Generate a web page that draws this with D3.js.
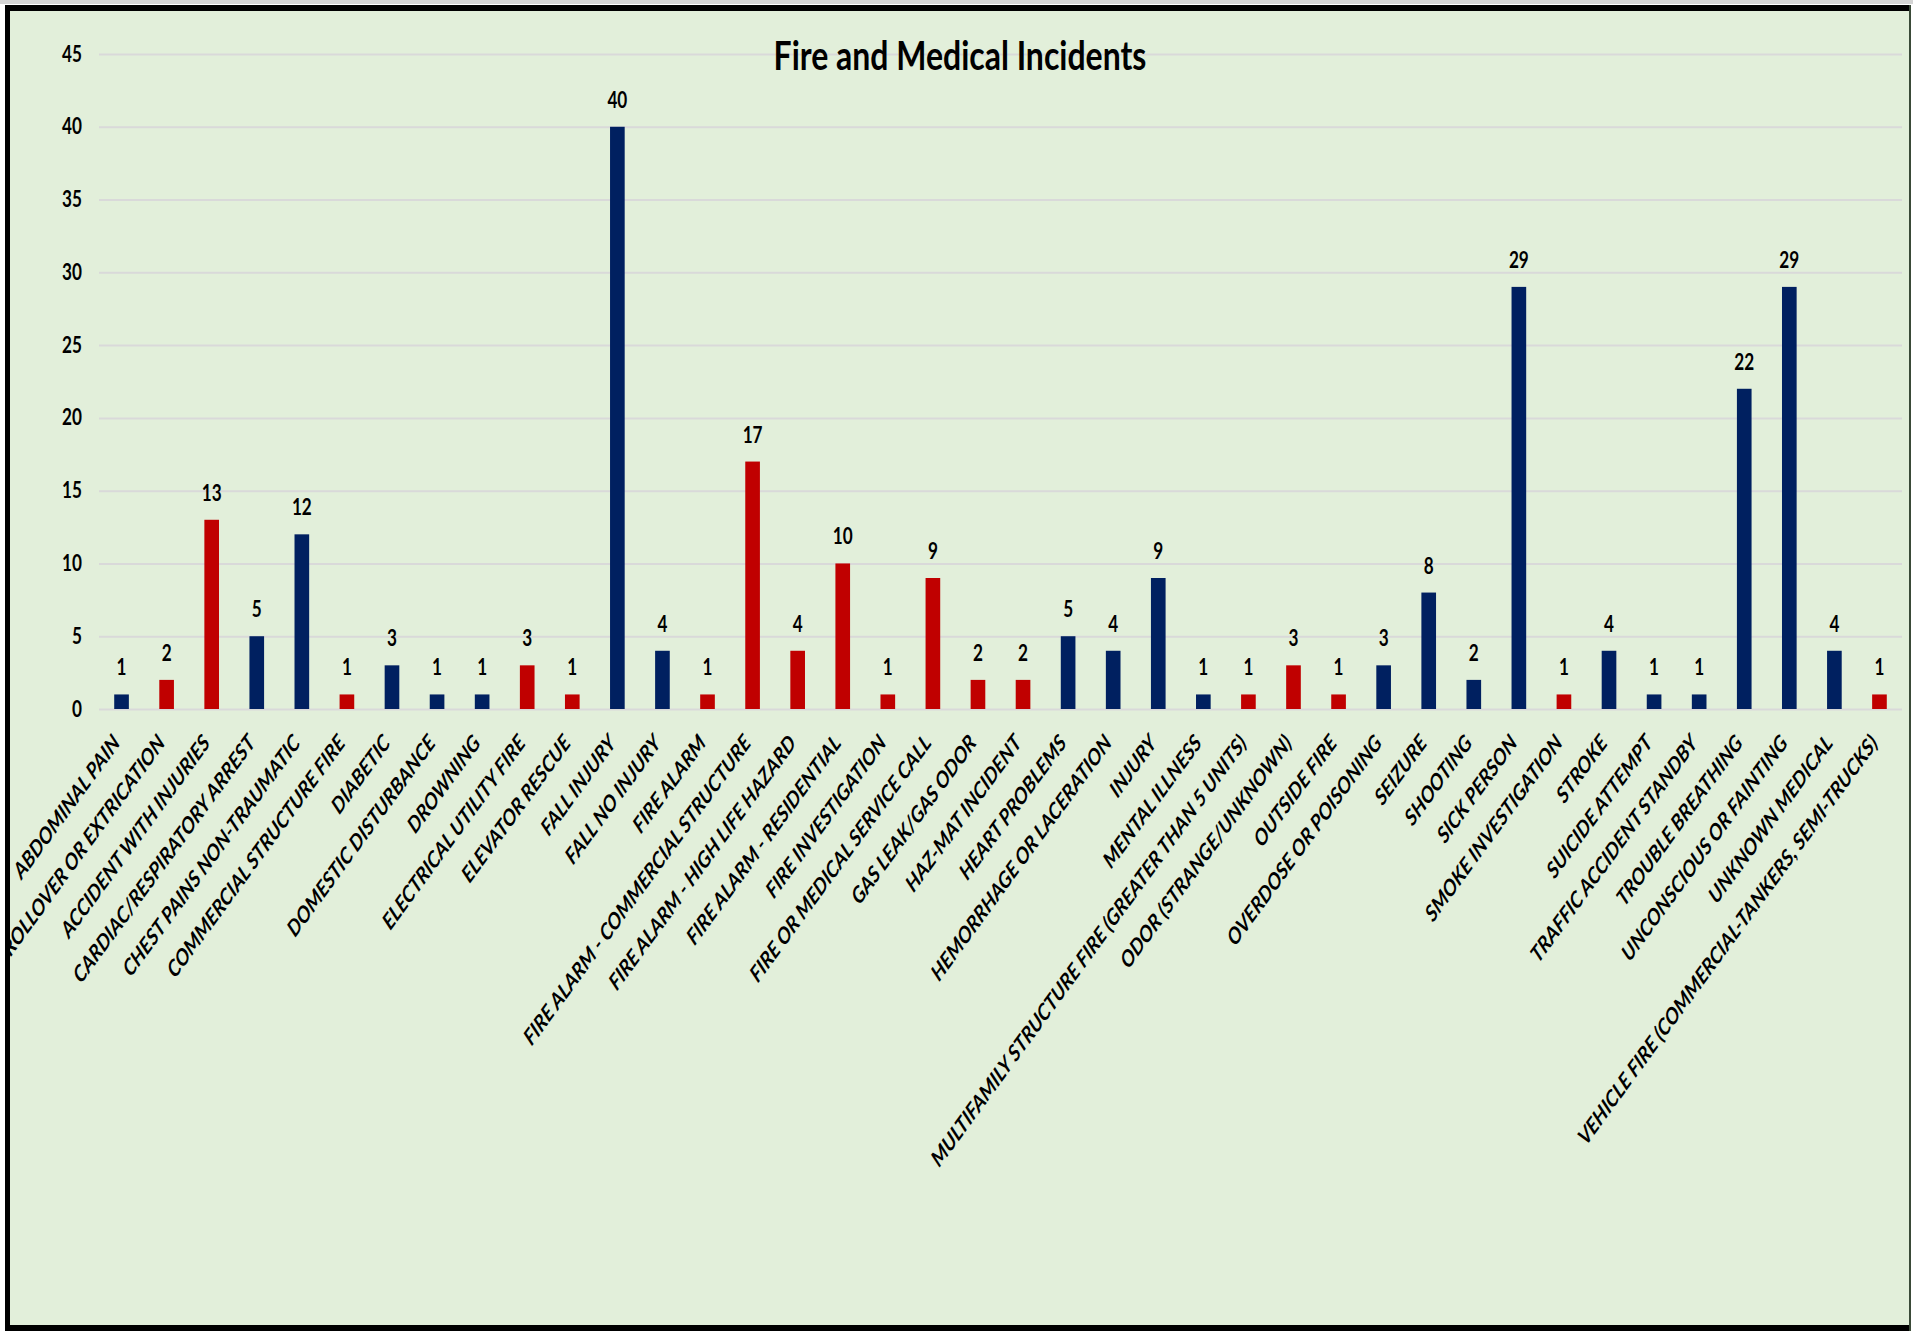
<!DOCTYPE html>
<html>
<head>
<meta charset="UTF-8">
<title>Fire and Medical Incidents</title>
<style>
  body { margin: 0; background: #fff; }
  svg { display: block; }
  text { font-family: Lato, "Open Sans", sans-serif; fill: #000; }
</style>
</head>
<body>
<svg id="chart"></svg>
<script src="https://d3js.org/d3.v7.min.js"></script>
<script>
// incident types and how many of each
const categories = [
  "ABDOMINAL PAIN", "ROLLOVER OR EXTRICATION", "ACCIDENT WITH INJURIES",
  "CARDIAC/RESPIRATORY ARREST", "CHEST PAINS NON-TRAUMATIC", "COMMERCIAL STRUCTURE FIRE",
  "DIABETIC", "DOMESTIC DISTURBANCE", "DROWNING", "ELECTRICAL UTILITY FIRE",
  "ELEVATOR RESCUE", "FALL INJURY", "FALL NO INJURY", "FIRE ALARM",
  "FIRE ALARM - COMMERCIAL STRUCTURE", "FIRE ALARM - HIGH LIFE HAZARD",
  "FIRE ALARM - RESIDENTIAL", "FIRE INVESTIGATION", "FIRE OR MEDICAL SERVICE CALL",
  "GAS LEAK/GAS ODOR", "HAZ-MAT INCIDENT", "HEART PROBLEMS", "HEMORRHAGE OR LACERATION",
  "INJURY", "MENTAL ILLNESS", "MULTIFAMILY STRUCTURE FIRE (GREATER THAN 5 UNITS)",
  "ODOR (STRANGE/UNKNOWN)", "OUTSIDE FIRE", "OVERDOSE OR POISONING", "SEIZURE",
  "SHOOTING", "SICK PERSON", "SMOKE INVESTIGATION", "STROKE", "SUICIDE ATTEMPT",
  "TRAFFIC ACCIDENT STANDBY", "TROUBLE BREATHING", "UNCONSCIOUS OR FAINTING",
  "UNKNOWN MEDICAL", "VEHICLE FIRE (COMMERCIAL-TANKERS, SEMI-TRUCKS)"
];
const counts = [1, 2, 13, 5, 12, 1, 3, 1, 1, 3, 1, 40, 4, 1, 17, 4, 10, 1, 9, 2,
  2, 5, 4, 9, 1, 1, 3, 1, 3, 8, 2, 29, 1, 4, 1, 1, 22, 29, 4, 1];
// F = fire call (red), M = medical call (blue)
const kinds = ["M", "F", "F", "M", "M", "F", "M", "M", "M", "F", "F", "M", "M", "F",
  "F", "F", "F", "F", "F", "F", "F", "M", "M", "M", "M", "F", "F", "F", "M", "M",
  "M", "M", "F", "M", "M", "M", "M", "M", "M", "F"];
const yTicks = [0, 5, 10, 15, 20, 25, 30, 35, 40, 45];

const width = 1913, height = 1332;
// the original picture is squashed sideways, so draw wide and squeeze it
const squeeze = 0.78;

const svg = d3.select("#chart")
    .attr("width", width)
    .attr("height", height);

svg.append("rect")
  .attr("x", 5).attr("y", 5)
  .attr("width", 1905).attr("height", 1323)
  .attr("fill", "#E2EFDA");

// frame
svg.append("rect").attr("x", 0).attr("y", 0).attr("width", width).attr("height", 4).attr("fill", "#d4d4d4");
svg.append("rect").attr("x", 5).attr("y", 5).attr("width", 1906).attr("height", 6).attr("fill", "#000");
svg.append("rect").attr("x", 5).attr("y", 5).attr("width", 5).attr("height", 1326).attr("fill", "#000");
svg.append("rect").attr("x", 5).attr("y", 1325).attr("width", 1906).attr("height", 6).attr("fill", "#000");
svg.append("rect").attr("x", 1909).attr("y", 5).attr("width", 2).attr("height", 1326).attr("fill", "#3a4a38");

svg.append("clipPath").attr("id", "inside")
  .append("rect").attr("x", 10).attr("y", 11).attr("width", 1899).attr("height", 1314);

const plot = svg.append("g")
    .attr("clip-path", "url(#inside)")
  .append("g")
    .attr("transform", `scale(${squeeze},1)`);

const left = 99 / squeeze, right = 1902 / squeeze;

let x = d3.scaleBand()
    .domain(categories)
    .range([left, right])
    .paddingInner(0.675)
    .paddingOuter(0.3375);

let y = d3.scaleLinear()
    .domain([0, 45])
    .range([709, 54]);

let colour = d3.scaleOrdinal()
    .domain(["F", "M"])
    .range(["#C00000", "#002060"]);

// y axis + gridlines
const yAxis = plot.append("g")
    .attr("transform", `translate(${left},0)`)
    .call(d3.axisLeft(y).tickValues(yTicks).tickSize(-(right - left)).tickPadding(22));
yAxis.select(".domain").remove();
yAxis.selectAll("line").attr("stroke", "#D9D9D9").attr("stroke-width", 2);
yAxis.selectAll("text")
    .attr("font-family", "Lato, sans-serif")
    .attr("font-size", 22)
    .attr("font-weight", 700)
    .attr("fill", "#000");

// bars
plot.append("g")
  .selectAll("rect")
  .data(categories)
  .join("rect")
    .attr("x", d => x(d))
    .attr("y", (d, i) => y(counts[i]))
    .attr("width", x.bandwidth())
    .attr("height", (d, i) => y(0) - y(counts[i]))
    .attr("fill", (d, i) => colour(kinds[i]));

// value labels
plot.append("g")
  .selectAll("text")
  .data(categories)
  .join("text")
    .attr("x", d => x(d) + x.bandwidth() / 2)
    .attr("y", (d, i) => y(counts[i]) - 19)
    .attr("text-anchor", "middle")
    .attr("font-size", 22)
    .attr("font-weight", 700)
    .text((d, i) => counts[i]);

// category axis
const xAxis = plot.append("g")
    .attr("transform", `translate(0,${y(0)})`)
    .call(d3.axisBottom(x).tickSize(0).tickPadding(0));
xAxis.select(".domain").remove();
xAxis.selectAll("text")
    .attr("y", 0)
    .attr("dy", 0)
    .attr("text-anchor", "end")
    .attr("transform", "translate(-1,35) rotate(-47)")
    .attr("font-family", "Lato, sans-serif")
    .attr("font-size", 23)
    .attr("font-weight", 700)
    .attr("font-style", "italic")
    .attr("fill", "#000");

// title
plot.append("text")
    .attr("x", 960 / squeeze)
    .attr("y", 70)
    .attr("text-anchor", "middle")
    .attr("font-size", 41)
    .attr("font-weight", 700)
    .text("Fire and Medical Incidents");
</script>
</body>
</html>
